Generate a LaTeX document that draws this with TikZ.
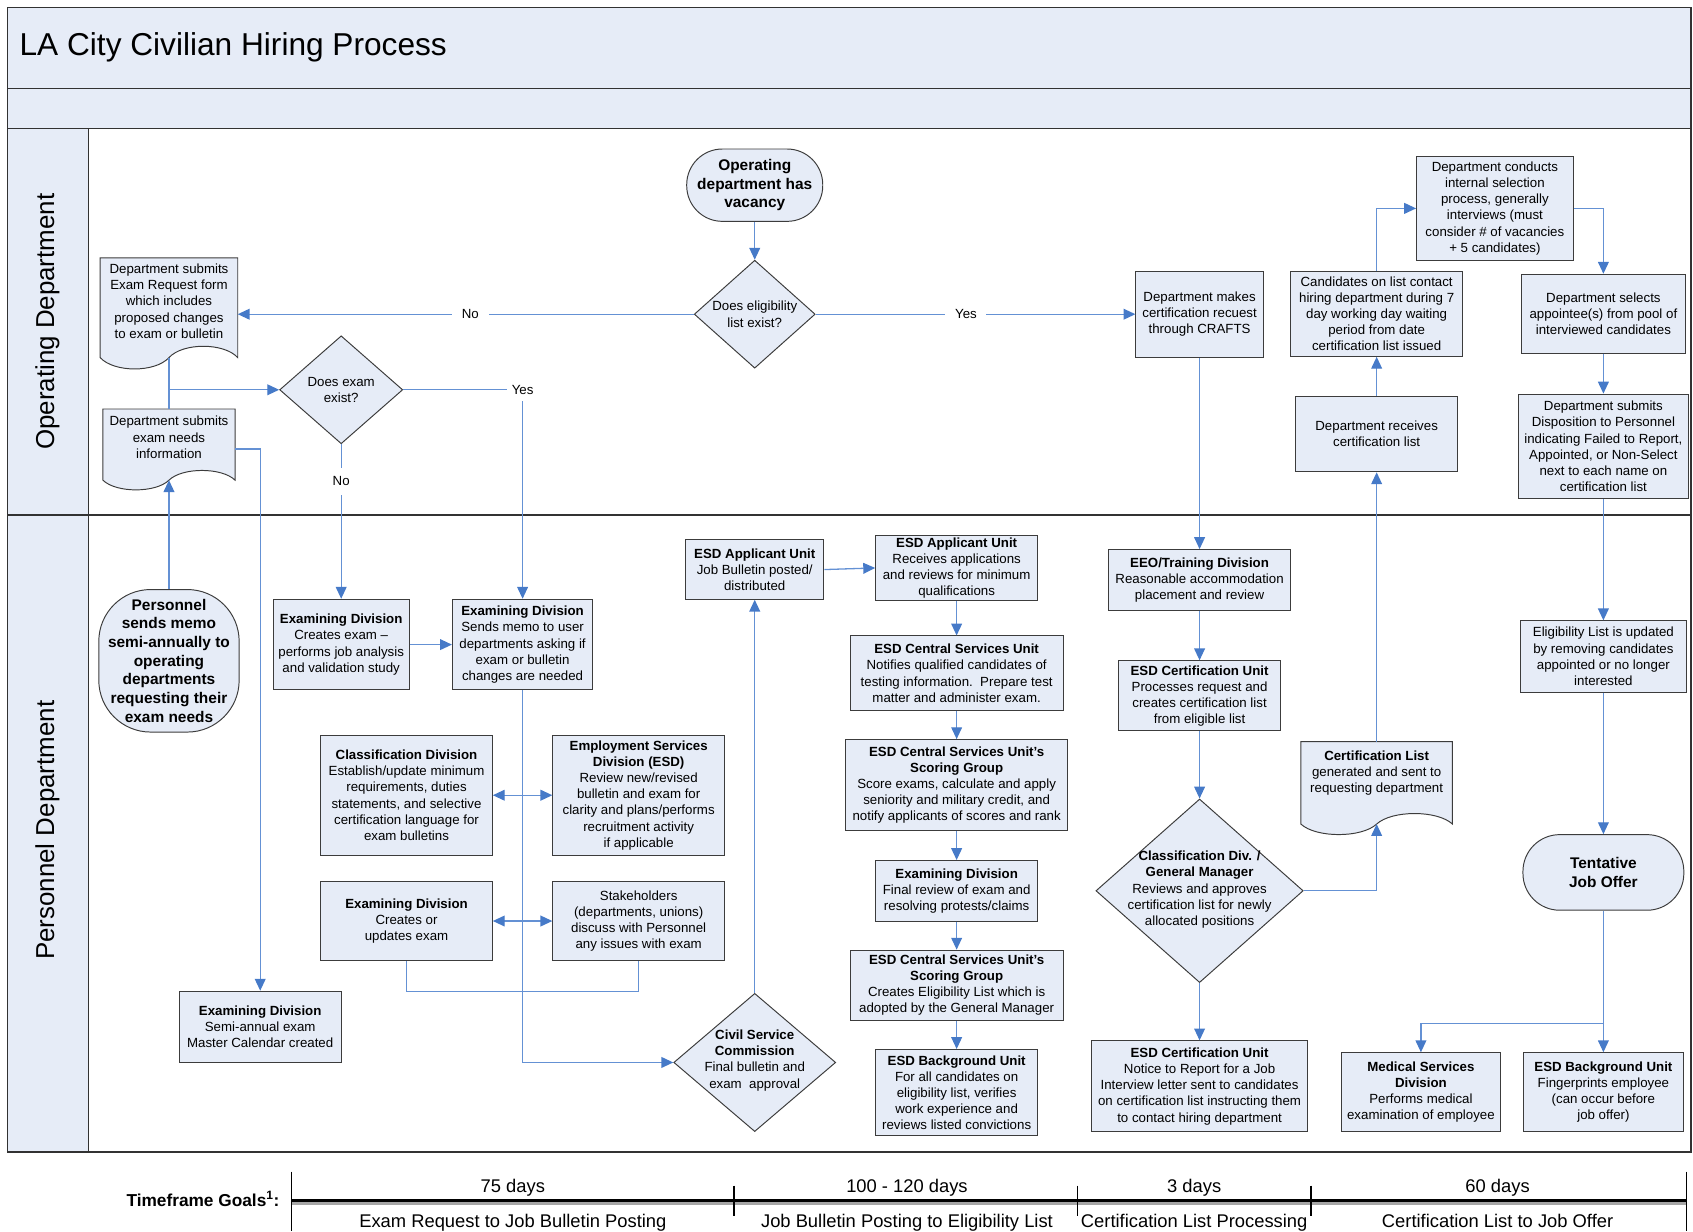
\documentclass[tikz,border=0pt]{standalone}
\usepackage{fontspec}
\setmainfont{Liberation Sans}
\usetikzlibrary{arrows.meta,shapes.geometric,calc}
\pgfdeclarelayer{background}
\pgfsetlayers{background,main}
\definecolor{bandfill}{RGB}{230,236,247}
\definecolor{boxfill}{RGB}{230,236,247}
\definecolor{boxline}{RGB}{60,60,60}
\definecolor{conncol}{RGB}{100,145,212}
\definecolor{tipcol}{RGB}{70,122,200}
\definecolor{framecol}{RGB}{50,50,50}
\newcommand{\docwave}[2]{%
  \draw[draw=boxline, line width=0.9pt, fill=boxfill] (#1.south west) -- (#1.north west) -- (#1.north east) -- (#1.south east)
   .. controls ($(#1.south east)!0.1!(#1.south west)+(0,-#2)$) and ($(#1.south east)!0.4!(#1.south west)+(0,-#2)$) .. (#1.south)
   .. controls ($(#1.south east)!0.6!(#1.south west)+(0,#2)$) and ($(#1.south east)!0.9!(#1.south west)+(0,#2)$) .. (#1.south west) -- cycle;}
\tikzset{
 box/.style={draw=boxline, line width=0.9pt, fill=boxfill, rectangle, align=center, inner sep=1.5pt, font=\fontsize{12.3}{15}\selectfont},
 term/.style={box, rounded corners=#1},
 dia/.style={draw=boxline, line width=0.9pt, fill=boxfill, diamond, inner sep=0pt},
 docnode/.style={rectangle, inner sep=0pt},
 txt/.style={align=center, inner sep=0pt, font=\fontsize{12.3}{15}\selectfont},
 conn/.style={draw=conncol, line width=1.2pt, -{Triangle[length=11pt,width=10pt,color=tipcol]}},
 dconn/.style={draw=conncol, line width=1.2pt, {Triangle[length=11pt,width=10pt,color=tipcol]}-{Triangle[length=11pt,width=10pt,color=tipcol]}},
 plain/.style={draw=conncol, line width=1.2pt},
 lbl/.style={fill=white, inner xsep=9pt, inner ysep=2pt, font=\fontsize{12.3}{15}\selectfont},
 tl/.style={font=\fontsize{17}{20}\selectfont, inner sep=0pt, anchor=base},
}
\begin{document}
\begin{tikzpicture}[x=1pt,y=-1pt]
\useasboundingbox (0,0) rectangle (1568,1141);

% ---------- Operating Department lane ----------
\node[term=33, minimum width=126, minimum height=67, font=\fontsize{14.3}{17}\selectfont\bfseries] (startvac) at (699,171.5) {Operating\\department has\\vacancy};
\node[dia, minimum width=112, minimum height=100] (dElig) at (699,291) {};
\node[txt] (dEligT) at (dElig) {Does eligibility\\list exist?};
\node[docnode, minimum width=127, minimum height=92] (reqForm) at (156.5,285) {};
\node[txt] (reqFormT) at (156.5,279) {Department submits\\Exam Request form\\which includes\\proposed changes\\to exam or bulletin};
\node[dia, minimum width=114, minimum height=100] (dExam) at (316,361) {};
\node[txt] (dExamT) at (dExam) {Does exam\\exist?};
\node[docnode, minimum width=122, minimum height=65.5] (needsInfo) at (156.5,411.75) {};
\node[txt] (needsInfoT) at (156.5,405) {Department submits\\exam needs\\information};
\node[box, minimum width=118, minimum height=80] (certReq) at (1111,291) {Department makes\\certification recuest\\through CRAFTS};
\node[box, minimum width=159, minimum height=79] (candContact) at (1275,290.5) {Candidates on list contact\\hiring department during 7\\day working day waiting\\period from date\\certification list issued};
\node[box, minimum width=145, minimum height=96] (conducts) at (1384.5,193) {Department conducts\\internal selection\\process, generally\\interviews (must\\consider \# of vacancies\\+ 5 candidates)};
\node[box, minimum width=152, minimum height=73] (selects) at (1485,290.5) {Department selects\\appointee(s) from pool of\\interviewed candidates};
\node[box, minimum width=150, minimum height=70] (receives) at (1275,402) {Department receives\\certification list};
\node[box, minimum width=158, minimum height=97] (disposition) at (1485,413.5) {Department submits\\Disposition to Personnel\\indicating Failed to Report,\\Appointed, or Non-Select\\next to each name on\\certification list};

% ---------- Personnel Department lane ----------
\node[term=48, minimum width=130, minimum height=132, font=\fontsize{14.3}{17.3}\selectfont\bfseries] (memo) at (156.5,612) {Personnel\\sends memo\\semi-annually to\\operating\\departments\\requesting their\\exam needs};
\node[box, minimum width=126, minimum height=84] (exCreate) at (316,597) {\textbf{Examining Division}\\Creates exam --\\performs job analysis\\and validation study};
\node[box, minimum width=130, minimum height=84] (exMemo) at (484,597) {\textbf{Examining Division}\\Sends memo to user\\departments asking if\\exam or bulletin\\changes are needed};
\node[box, minimum width=159, minimum height=111] (classif) at (376.5,736.5) {\textbf{Classification Division}\\Establish/update minimum\\requirements, duties\\statements, and selective\\certification language for\\exam bulletins};
\node[box, minimum width=159, minimum height=111] (esdDiv) at (591.5,736.5) {\textbf{Employment Services}\\\textbf{Division (ESD)}\\Review new/revised\\bulletin and exam for\\clarity and plans/performs\\recruitment activity\\if applicable};
\node[box, minimum width=159, minimum height=74] (exUpdate) at (376.5,853) {\textbf{Examining Division}\\Creates or\\updates exam};
\node[box, minimum width=159, minimum height=74] (stake) at (591.5,853) {Stakeholders\\(departments, unions)\\discuss with Personnel\\any issues with exam};
\node[box, minimum width=150, minimum height=66] (masterCal) at (241,951) {\textbf{Examining Division}\\Semi-annual exam\\Master Calendar created};
\node[dia, minimum width=150, minimum height=128] (csc) at (699,984) {};
\node[txt] (cscT) at (699,982) {\textbf{Civil Service}\\\textbf{Commission}\\Final bulletin and\\exam\ \ approval};
\node[box, minimum width=128, minimum height=55] (appPosted) at (699,527.5) {\textbf{ESD Applicant Unit}\\Job Bulletin posted/\\distributed};
\node[box, minimum width=150, minimum height=60] (appRecv) at (886,526) {\textbf{ESD Applicant Unit}\\Receives applications\\and reviews for minimum\\qualifications};
\node[box, minimum width=197, minimum height=69] (central) at (886,623.5) {\textbf{ESD Central Services Unit}\\Notifies qualified candidates of\\testing information.\ \ Prepare test\\matter and administer exam.};
\node[box, minimum width=205, minimum height=84] (scoring1) at (886,727) {\textbf{ESD Central Services Unit's}\\\textbf{Scoring Group}\\Score exams, calculate and apply\\seniority and military credit, and\\notify applicants of scores and rank};
\node[box, minimum width=150, minimum height=56] (finalRev) at (886,825) {\textbf{Examining Division}\\Final review of exam and\\resolving protests/claims};
\node[box, minimum width=197, minimum height=65] (scoring2) at (886,912.5) {\textbf{ESD Central Services Unit's}\\\textbf{Scoring Group}\\Creates Eligibility List which is\\adopted by the General Manager};
\node[box, minimum width=150, minimum height=80] (bgUnit1) at (886,1012) {\textbf{ESD Background Unit}\\For all candidates on\\eligibility list, verifies\\work experience and\\reviews listed convictions};
\node[box, minimum width=169, minimum height=56] (eeo) at (1111,537) {\textbf{EEO/Training Division}\\Reasonable accommodation\\placement and review};
\node[box, minimum width=150, minimum height=65] (certUnit) at (1111,644.5) {\textbf{ESD Certification Unit}\\Processes request and\\creates certification list\\from eligible list};
\node[dia, minimum width=192, minimum height=170] (classGM) at (1111,825) {};
\node[txt] (classGMT) at (1111,824) {\textbf{Classification Div. /}\\\textbf{General Manager}\\Reviews and approves\\certification list for newly\\allocated positions};
\node[docnode, minimum width=140, minimum height=76] (certList) at (1275,725) {};
\node[txt] (certListT) at (1275,716) {\textbf{Certification List}\\generated and sent to\\requesting department};
\node[box, minimum width=200, minimum height=84] (notice) at (1111,1006) {\textbf{ESD Certification Unit}\\Notice to Report for a Job\\Interview letter sent to candidates\\on certification list instructing them\\to contact hiring department};
\node[box, minimum width=154, minimum height=66] (eligUpd) at (1485,608) {Eligibility List is updated\\by removing candidates\\appointed or no longer\\interested};
\node[term=34, minimum width=149, minimum height=70, font=\fontsize{14.3}{17}\selectfont\bfseries] (tentative) at (1485,808) {Tentative\\Job Offer};
\node[box, minimum width=148, minimum height=73] (medical) at (1316,1011.5) {\textbf{Medical Services}\\\textbf{Division}\\Performs medical\\examination of employee};
\node[box, minimum width=148, minimum height=73] (bgUnit2) at (1485,1011.5) {\textbf{ESD Background Unit}\\Fingerprints employee\\(can occur before\\job offer)};

% ---------- frame and document shapes (behind) ----------
\begin{pgfonlayer}{background}
\fill[bandfill] (7,7) rectangle (1566,119);
\fill[bandfill] (7,119) rectangle (82,1067);
\draw[framecol, line width=1.4pt] (7,7) rectangle (1566,1067);
\draw[framecol, line width=1.4pt] (7,82) -- (1566,82);
\draw[framecol, line width=1.4pt] (7,119) -- (1566,119);
\draw[framecol, line width=1.4pt] (7,477) -- (1566,477);
\draw[framecol, line width=1.2pt] (82,119) -- (82,1067);
\docwave{reqForm}{14}
\docwave{needsInfo}{12}
\docwave{certList}{13}
\end{pgfonlayer}

\node[anchor=west, inner sep=0pt, font=\fontsize{29.3}{34}\selectfont] (title) at (18,44) {LA City Civilian Hiring Process};
\node[rotate=90, inner sep=0pt, font=\fontsize{24}{28}\selectfont] (laneOp) at (44,298) {Operating Department};
\node[rotate=90, inner sep=0pt, font=\fontsize{24}{28}\selectfont] (lanePers) at (44,769) {Personnel Department};

% ---------- connectors ----------
\draw[conn] (startvac) -- (dElig);
\draw[conn] (dElig.west) -- node[lbl, pos=0.49] {No} (dElig.west -| reqForm.east);
\draw[conn] (dElig.east) -- node[lbl, pos=0.47] {Yes} (certReq.west);
\coordinate (j1) at (reqForm.south |- dExam.west);
\draw[plain] (reqForm.south) -- (needsInfo.north);
\draw[conn] (j1) -- (dExam.west);
\draw[conn] (memo.north) -- (needsInfo.south);
\draw[conn] ($(needsInfo.east)+(0,4)$) -| (masterCal.north);
\draw[conn] (dExam.east) -| node[lbl, pos=0.5, inner xsep=4pt, inner ysep=6pt] {Yes} (exMemo.north);
\draw[conn] (dExam.south) -- node[lbl, pos=0.24, inner xsep=2pt, inner ysep=8pt] {No} (exCreate.north);
\draw[conn] (exCreate) -- (exMemo);
\draw[conn] (exMemo.south) |- (csc.west);
\draw[dconn] (classif.east) -- (esdDiv.west);
\draw[dconn] (exUpdate.east) -- (stake.west);
\draw[plain] (exUpdate.south) -- ++(0,28) -| (stake.south);
\draw[conn] (csc.north) -- (appPosted.south);
\draw[conn] (appPosted.east) -- (appRecv.west);
\draw[conn] (appRecv) -- (central);
\draw[conn] (central) -- (scoring1);
\draw[conn] (scoring1) -- (finalRev);
\draw[conn] (finalRev) -- (scoring2);
\draw[conn] (scoring2) -- (bgUnit1);
\draw[conn] (certReq.south) -- (eeo.north);
\draw[conn] (eeo) -- (certUnit);
\draw[conn] (certUnit.south) -- (classGM.north);
\draw[conn] (classGM.south) -- (notice.north);
\draw[conn] (classGM.east) -| (certList.south);
\draw[conn] (certList.north) -- (receives.south);
\draw[conn] (receives) -- (candContact);
\draw[conn] (candContact.north) |- (conducts.west);
\draw[conn] (conducts.east) -| (selects.north);
\draw[conn] (selects) -- (disposition);
\draw[conn] (disposition.south) -- (eligUpd.north);
\draw[conn] (eligUpd) -- (tentative);
\draw[conn] (tentative.south) -- (bgUnit2.north);
\coordinate (j2) at (1485,948);
\draw[conn] (j2) -| (medical.north);

% ---------- timeline ----------
\draw[line width=3pt, black!35] (270,1114.5) -- (1562,1114.5);
\draw[line width=2.4pt, black] (270,1112) -- (1562,1112);
\draw[line width=1.5pt] (270,1085) -- (270,1140);
\draw[line width=1.5pt] (1562,1085) -- (1562,1140);
\draw[line width=1.5pt] (680,1098) -- (680,1126);
\draw[line width=1.5pt] (998,1098) -- (998,1126);
\draw[line width=1.5pt] (1214,1098) -- (1214,1126);
\node[anchor=base east, inner sep=0pt, font=\fontsize{16}{19}\selectfont\bfseries] (tfg) at (259,1117) {Timeframe Goals\textsuperscript{1}:};
\node[tl] (t1a) at (475,1104) {75 days};
\node[tl] (t2a) at (840,1104) {100 - 120 days};
\node[tl] (t3a) at (1106,1104) {3 days};
\node[tl] (t4a) at (1387,1104) {60 days};
\node[tl] (t1b) at (475,1136.5) {Exam Request to Job Bulletin Posting};
\node[tl] (t2b) at (840,1136.5) {Job Bulletin Posting to Eligibility List};
\node[tl] (t3b) at (1106,1136.5) {Certification List Processing};
\node[tl] (t4b) at (1387,1136.5) {Certification List to Job Offer};
\end{tikzpicture}
\end{document}
